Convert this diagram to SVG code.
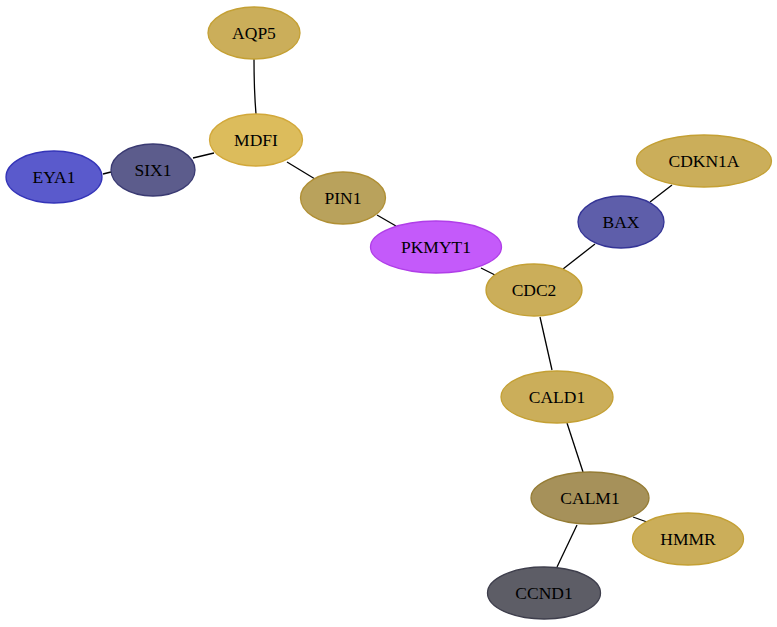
<svg xmlns="http://www.w3.org/2000/svg" width="777" height="627" viewBox="0 0 777 627">
<style>
.n ellipse{stroke-width:1.3}
.n text{font-family:"Liberation Serif","Times New Roman",serif;font-size:17.5px;text-anchor:middle;fill:#000}
.e path{stroke:#000;stroke-width:1.3;fill:none}
.gold ellipse{fill:#cbae5a;stroke:#c4a034}
</style>
<rect width="777" height="627" fill="#fff"/>
<g class="e" id="edges">
<path d="M254,59 Q254,90 256,114"/>
<path d="M193,158 L214,153"/>
<path d="M103,174 L111,172"/>
<path d="M287,162 L315,179"/>
<path d="M377,215 L396,226"/>
<path d="M481,268 L495,275"/>
<path d="M563,269 L595,244"/>
<path d="M650,202 L672,185"/>
<path d="M540,317 L552,370"/>
<path d="M567,423 L583,472"/>
<path d="M633,517 L647,522"/>
<path d="M577,525 L557,567"/>
</g>
<g class="n gold" id="AQP5"><ellipse cx="254" cy="33" rx="46" ry="26"/><text x="254" y="39">AQP5</text></g>
<g class="n" id="MDFI"><ellipse cx="256" cy="140" rx="46.5" ry="26" fill="#dcbc5c" stroke="#d2a83a"/><text x="256" y="146">MDFI</text></g>
<g class="n" id="SIX1"><ellipse cx="153" cy="170" rx="42" ry="26" fill="#5c5c8c" stroke="#3a3a72"/><text x="153" y="176">SIX1</text></g>
<g class="n" id="EYA1"><ellipse cx="54" cy="177" rx="48" ry="26" fill="#5a5acc" stroke="#3434b8"/><text x="54" y="183">EYA1</text></g>
<g class="n" id="PIN1"><ellipse cx="343" cy="198" rx="42.5" ry="26" fill="#b9a25c" stroke="#b08f34"/><text x="343" y="204">PIN1</text></g>
<g class="n" id="PKMYT1"><ellipse cx="436" cy="247" rx="65.5" ry="26" fill="#c45afa" stroke="#b03ee8"/><text x="436" y="253">PKMYT1</text></g>
<g class="n gold" id="CDC2"><ellipse cx="534" cy="290" rx="48" ry="26"/><text x="534" y="296">CDC2</text></g>
<g class="n" id="BAX"><ellipse cx="621" cy="222" rx="43" ry="26" fill="#5e5eaa" stroke="#343496"/><text x="621" y="228">BAX</text></g>
<g class="n gold" id="CDKN1A"><ellipse cx="704" cy="161" rx="67.5" ry="26"/><text x="704" y="167">CDKN1A</text></g>
<g class="n gold" id="CALD1"><ellipse cx="557" cy="397" rx="56" ry="26"/><text x="557" y="403">CALD1</text></g>
<g class="n" id="CALM1"><ellipse cx="590" cy="498" rx="59" ry="26" fill="#a6915a" stroke="#957c34"/><text x="590" y="504">CALM1</text></g>
<g class="n gold" id="HMMR"><ellipse cx="688" cy="539" rx="55.5" ry="26"/><text x="688" y="545">HMMR</text></g>
<g class="n" id="CCND1"><ellipse cx="544" cy="593" rx="56.5" ry="26" fill="#5d5d66" stroke="#3e3e4c"/><text x="544" y="599">CCND1</text></g>
</svg>
